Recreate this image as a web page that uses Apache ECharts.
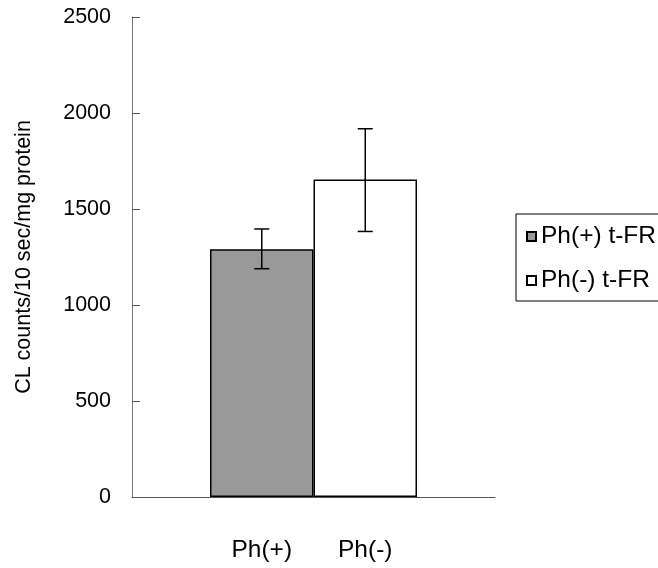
<!DOCTYPE html>
<html>
<head>
<meta charset="utf-8">
<script src="https://cdn.jsdelivr.net/npm/echarts@6/dist/echarts.min.js"></script>
<style>html,body{margin:0;padding:0;background:#fff;}#c{width:658px;height:568px;}</style>
</head>
<body>
<div id="c"></div>
<script>
const categories = ['Ph(+)', 'Ph(-)'];
const seriesNames = ['Ph(+) t-FR', 'Ph(-) t-FR'];
const means = [1290, 1654];
const errLow = [1189, 1383];
const errHigh = [1396, 1918];
const yTicks = [0, 500, 1000, 1500, 2000, 2500];
const yTitle = 'CL counts/10 sec/mg protein';
const colors = ['#999999', '#ffffff'];

const FONT = "'Liberation Sans', Arial, sans-serif";
const chart = echarts.init(document.getElementById('c'), null, {renderer: 'canvas'});

const barSeries = seriesNames.map((name, i) => ({
  name: name,
  type: 'bar',
  xAxisIndex: 1,
  yAxisIndex: 1,
  barWidth: '100%',
  barGap: '-100%',
  data: means.map((v, j) => j === i ? v : '-'),
  itemStyle: {color: colors[i], borderColor: '#000', borderWidth: 1.5},
  emphasis: {disabled: true},
  z: 2
}));

const errSeries = {
  type: 'custom',
  xAxisIndex: 1,
  yAxisIndex: 1,
  z: 5,
  data: categories.map((c, i) => [i, errLow[i], errHigh[i]]),
  renderItem: function (params, api) {
    const x = api.value(0);
    const lo = api.coord([x, api.value(1)]);
    const hi = api.coord([x, api.value(2)]);
    const hw = 7.5;
    const style = {stroke: '#000', lineWidth: 1.5};
    return {
      type: 'group',
      children: [
        {type: 'line', shape: {x1: lo[0], y1: lo[1], x2: hi[0], y2: hi[1]}, style: style},
        {type: 'line', shape: {x1: hi[0] - hw, y1: hi[1], x2: hi[0] + hw, y2: hi[1]}, style: style},
        {type: 'line', shape: {x1: lo[0] - hw, y1: lo[1], x2: lo[0] + hw, y2: lo[1]}, style: style}
      ]
    };
  }
};

const option = {
  animation: false,
  backgroundColor: '#fff',
  textStyle: {fontFamily: FONT},
  grid: [
    {left: 132, right: 163, top: 17, bottom: 71},
    {left: 210, right: 241, top: 17, bottom: 71}
  ],
  legend: {
    orient: 'vertical',
    left: 516,
    top: 214,
    padding: [10, 24, 8, 10],
    itemGap: 19,
    itemWidth: 9,
    itemHeight: 9,
    icon: 'rect',
    borderColor: '#000',
    borderWidth: 1,
    data: seriesNames,
    textStyle: {fontFamily: FONT, fontSize: 24.5, lineHeight: 25, color: '#000'}
  },
  xAxis: [
    {
      gridIndex: 0,
      type: 'category',
      data: [''],
      boundaryGap: true,
      axisLine: {lineStyle: {color: '#555', width: 1}},
      axisTick: {inside: true, length: 9, interval: 0, lineStyle: {color: '#555'}},
      axisLabel: {show: false}
    },
    {
      gridIndex: 1,
      type: 'category',
      data: categories,
      axisLine: {show: false},
      axisTick: {show: false},
      axisLabel: {fontFamily: FONT, fontSize: 24.5, color: '#000', margin: 41}
    }
  ],
  yAxis: [
    {
      gridIndex: 0,
      type: 'value',
      min: yTicks[0],
      max: yTicks[yTicks.length - 1],
      interval: 500,
      name: yTitle,
      nameLocation: 'middle',
      nameGap: 97,
      nameTextStyle: {fontFamily: FONT, fontSize: 21.5, color: '#000'},
      axisLine: {show: true, lineStyle: {color: '#777', width: 1}},
      axisTick: {show: true, inside: true, length: 8, lineStyle: {color: '#555'}},
      axisLabel: {
        fontFamily: FONT, fontSize: 21.5, color: '#000', margin: 21,
        padding: [6, 0, 0, 0],
        formatter: function (v) { return String(v); }
      },
      splitLine: {show: false}
    },
    {
      gridIndex: 1,
      type: 'value',
      min: yTicks[0],
      max: yTicks[yTicks.length - 1],
      interval: 500,
      show: false,
      splitLine: {show: false}
    }
  ],
  series: barSeries.concat([errSeries])
};
chart.setOption(option);
</script>
</body>
</html>
